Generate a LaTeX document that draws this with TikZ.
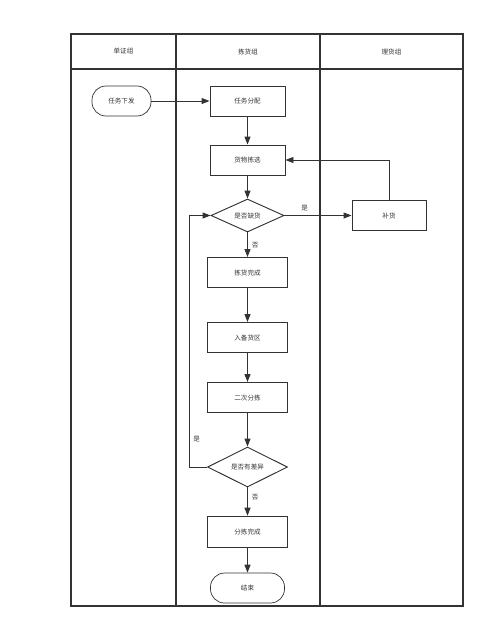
\documentclass[tikz,border=0pt]{standalone}
\usepackage{fontspec}
\setmainfont{Noto Sans CJK SC}
\usetikzlibrary{positioning,shapes.geometric,arrows.meta}
\definecolor{linegray}{HTML}{333333}
\begin{document}
\begin{tikzpicture}[
  x=0.03cm, y=-0.03cm,
  node distance=1.8cm, on grid,
  every node/.style={font=\fontsize{5.6}{6.5}\selectfont, text=linegray},
  box/.style={draw=linegray, line width=0.8pt, align=center, minimum width=2.4cm, minimum height=0.9cm},
  terminal/.style={draw=linegray, line width=0.6pt, rounded corners=0.42cm, align=center, minimum height=0.9cm},
  decision/.style={draw=linegray, line width=0.8pt, diamond, aspect=2.2, inner sep=0pt, align=center},
  lane/.style={draw=linegray, line width=1pt},
  arrow/.style={-{Triangle[length=2.4mm,width=1.8mm]}, draw=linegray, line width=0.8pt}
]
\useasboundingbox (0,0) rectangle (500,643);

% swimlanes
\draw[lane] (71,34) rectangle (463,606);
\draw[lane] (71,69) -- (463,69);
\draw[lane] (176,34) -- (176,606);
\draw[lane] (320,34) -- (320,606);
\node (lane1) at (123.5,51.5) {单证组};
\node (lane2) at (248,51.5) {拣货组};
\node (lane3) at (391.5,51.5) {理货组};

% steps
\node[box, minimum width=2.25cm] (fenpei) at (247.5,101) {任务分配};
\node[terminal, minimum width=1.77cm, left=3.78cm of fenpei] (xiafa) {任务下发};
\node[box, minimum width=2.25cm, below=1.77cm of fenpei] (jianxuan) {货物拣选};
\node[decision, minimum width=2.19cm, minimum height=0.99cm, below=1.665cm of jianxuan] (que) {是否缺货};
\node[box, minimum width=2.22cm, right=4.245cm of que] (buhuo) {补货};
\node[box, below=1.71cm of que] (wancheng) {拣货完成};
\node[box, below=1.95cm of wancheng] (beihuo) {入备货区};
\node[box, below=1.8cm of beihuo] (erci) {二次分拣};
\node[decision, minimum width=2.4cm, minimum height=1.2cm, below=2.085cm of erci] (chayi) {是否有差异};
\node[box, minimum height=0.95cm, below=1.95cm of chayi] (fenjian) {分拣完成};
\node[terminal, minimum width=2.22cm, below=1.68cm of fenjian] (jieshu) {结束};

\draw[arrow] (xiafa) -- (fenpei);
\draw[arrow] (fenpei) -- (jianxuan);
\draw[arrow] (jianxuan) -- (que);
\draw[arrow] (que) -- node[right] {否} (wancheng);
\draw[arrow] (que) -- node[above, pos=0.3] {是} (buhuo);
\draw[arrow] (buhuo) |- (jianxuan);
\draw[arrow] (wancheng) -- (beihuo);
\draw[arrow] (beihuo) -- (erci);
\draw[arrow] (erci) -- (chayi);
\draw[arrow] (chayi.west) -- ++(-18,0) coordinate (back) |- node[right, pos=0.055] {是} (que.west);
\draw[arrow] (chayi) -- node[right, pos=0.35] {否} (fenjian);
\draw[arrow] (fenjian) -- (jieshu);
\end{tikzpicture}
\end{document}
